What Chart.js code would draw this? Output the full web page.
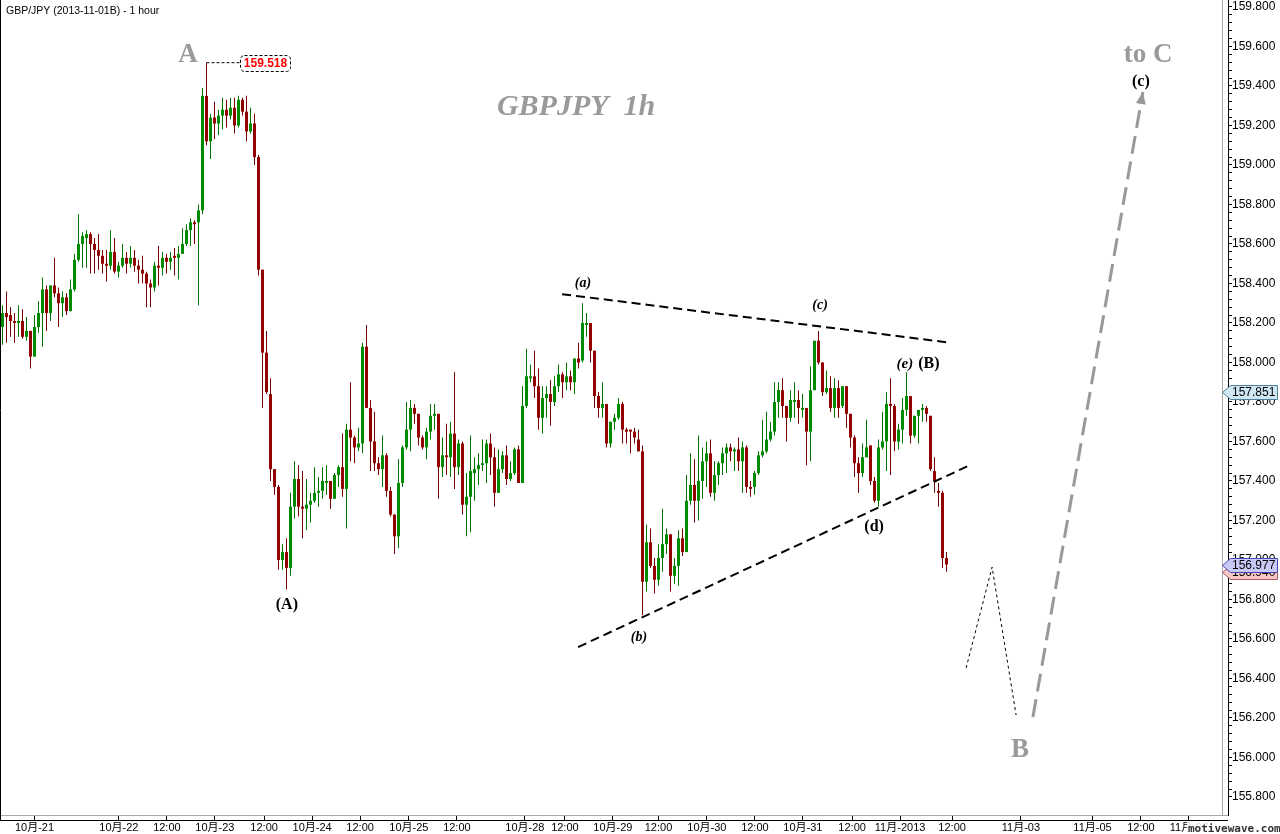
<!DOCTYPE html>
<html><head><meta charset="utf-8">
<script src="https://cdn.jsdelivr.net/npm/chart.js"></script>
<style>html,body{margin:0;padding:0;background:#fff;overflow:hidden}#wrap{position:relative;width:1280px;height:834px}</style>
</head><body><div id="wrap"><canvas id="c" width="1280" height="834"></canvas></div>
<script>
// ---------- DATA (GBP/JPY hourly, bars numbered from 1) ----------
const firstBar = 1;
const openP = [
158.18,158.25,158.24,158.21,158.20,158.21,158.13,158.16,158.03,158.18,
158.25,158.37,158.25,158.39,158.35,158.30,158.33,158.26,158.37,158.52,
158.60,158.63,158.65,158.60,158.57,158.54,158.50,158.49,158.56,158.46,
158.49,158.53,158.50,158.53,158.49,158.47,158.45,158.40,158.38,158.49,
158.48,158.53,158.51,158.54,158.53,158.55,158.60,158.67,158.71,158.71,
158.77,159.35,159.12,159.24,159.21,159.25,159.28,159.25,159.29,159.20,
159.33,159.27,159.17,159.21,159.04,158.47,158.05,157.84,157.46,157.37,
157.00,157.04,156.96,157.27,157.41,157.27,157.26,157.28,157.30,157.34,
157.35,157.39,157.40,157.31,157.43,157.47,157.36,157.66,157.62,157.57,
157.59,158.08,157.77,157.60,157.49,157.46,157.53,157.35,157.23,157.12,
157.39,157.57,157.66,157.77,157.74,157.62,157.57,157.65,157.73,157.74,
157.47,157.53,157.52,157.64,157.47,157.59,157.28,157.32,157.44,157.46,
157.48,157.49,157.59,157.52,157.34,157.46,157.53,157.41,157.44,157.56,
157.39,157.78,157.92,157.93,157.88,157.72,157.82,157.84,157.80,157.88,
157.94,157.90,157.93,157.90,158.02,158.01,158.19,158.20,158.06,157.83,
157.77,157.79,157.59,157.70,157.72,157.79,157.66,157.66,157.65,157.61,
157.55,156.89,157.09,156.97,156.90,157.01,157.08,157.13,156.92,156.97,
157.11,157.04,157.30,157.38,157.30,157.40,157.50,157.54,157.34,157.43,
157.49,157.54,157.57,157.55,157.56,157.50,157.57,157.37,157.37,157.44,
157.53,157.55,157.61,157.65,157.80,157.86,157.78,157.72,157.80,157.81,
157.76,157.77,157.65,157.86,158.11,158.00,157.85,157.87,157.77,157.87,
157.78,157.88,157.74,157.62,157.49,157.44,157.52,157.58,157.40,157.30,
157.57,157.60,157.79,157.78,157.60,157.66,157.76,157.83,157.63,157.73,
157.76,157.77,157.73,157.45,157.35,157.34,157.01];
const highP = [
158.29,158.36,158.28,158.25,158.29,158.27,158.23,158.16,158.24,158.31,
158.43,158.39,158.39,158.53,158.38,158.36,158.35,158.42,158.55,158.75,
158.66,158.67,158.66,158.63,158.65,158.57,158.57,158.67,158.63,158.51,
158.60,158.56,158.59,158.57,158.52,158.54,158.46,158.42,158.51,158.59,
158.56,158.55,158.56,158.58,158.59,158.68,158.70,158.73,158.72,158.80,
159.39,159.518,159.26,159.32,159.28,159.34,159.33,159.34,159.34,159.35,
159.34,159.35,159.29,159.26,159.05,158.47,158.16,157.92,157.46,157.38,
157.08,157.11,157.34,157.50,157.48,157.45,157.41,157.34,157.47,157.42,
157.47,157.48,157.40,157.44,157.48,157.64,157.69,157.90,157.63,157.67,
158.10,158.19,157.81,157.75,157.52,157.63,157.54,157.37,157.23,157.51,
157.58,157.80,157.81,157.79,157.74,157.63,157.67,157.79,157.79,157.74,
157.62,157.69,157.70,157.95,157.61,157.60,157.44,157.63,157.52,157.54,
157.61,157.61,157.64,157.57,157.56,157.55,157.58,157.50,157.57,157.58,
157.88,158.07,157.99,158.06,157.97,157.88,157.88,157.91,157.93,157.99,
157.95,158.00,157.96,158.02,158.10,158.30,158.25,158.20,158.06,157.85,
157.90,157.79,157.70,157.74,157.82,157.80,157.67,157.66,157.67,157.66,
157.58,157.18,157.16,157.01,157.08,157.26,157.16,157.13,157.01,157.15,
157.16,157.43,157.54,157.51,157.63,157.57,157.60,157.61,157.50,157.50,
157.57,157.59,157.59,157.57,157.62,157.60,157.58,157.40,157.45,157.55,
157.71,157.75,157.70,157.90,157.90,157.92,157.78,157.86,157.90,157.86,
157.84,157.77,157.98,158.11,158.16,158.00,157.96,157.93,157.92,157.91,
157.88,157.88,157.74,157.63,157.52,157.59,157.71,157.58,157.42,157.61,
157.75,157.85,157.92,157.79,157.69,157.82,157.95,157.83,157.73,157.76,
157.79,157.78,157.73,157.52,157.39,157.35,157.04];
const lowP = [
158.09,158.10,158.13,158.10,158.13,158.12,158.11,157.97,158.03,158.15,
158.08,158.16,158.21,158.33,158.18,158.23,158.24,158.26,158.36,158.51,
158.48,158.48,158.45,158.45,158.47,158.45,158.41,158.47,158.45,158.43,
158.48,158.45,158.48,158.46,158.40,158.40,158.28,158.28,158.36,158.39,
158.44,158.45,158.47,158.44,158.42,158.55,158.59,158.59,158.60,158.29,
158.75,159.10,159.03,159.13,159.15,159.18,159.19,159.23,159.16,159.19,
159.25,159.12,159.16,159.00,158.44,157.77,157.84,157.40,157.33,156.95,
156.95,156.85,156.92,157.21,157.22,157.11,157.15,157.19,157.29,157.27,
157.31,157.33,157.26,157.31,157.37,157.32,157.16,157.50,157.49,157.55,
157.54,157.77,157.45,157.45,157.43,157.37,157.32,157.22,157.03,157.06,
157.37,157.56,157.55,157.69,157.58,157.56,157.51,157.61,157.66,157.31,
157.42,157.43,157.42,157.36,157.43,157.23,157.12,157.14,157.30,157.38,
157.45,157.39,157.43,157.27,157.34,157.44,157.38,157.40,157.43,157.39,
157.39,157.77,157.90,157.82,157.66,157.64,157.72,157.68,157.78,157.85,
157.82,157.86,157.86,157.84,157.97,158.00,158.13,158.00,157.77,157.72,
157.72,157.57,157.57,157.66,157.71,157.59,157.59,157.54,157.59,157.55,
156.72,156.84,156.96,156.83,156.87,156.94,157.03,156.84,156.88,156.87,
157.02,157.04,157.28,157.19,157.20,157.31,157.37,157.32,157.30,157.38,
157.43,157.44,157.50,157.45,157.45,157.34,157.34,157.32,157.33,157.43,
157.52,157.54,157.60,157.63,157.72,157.72,157.60,157.70,157.72,157.69,
157.72,157.48,157.50,157.86,157.99,157.83,157.84,157.75,157.72,157.72,
157.77,157.67,157.57,157.42,157.34,157.42,157.52,157.38,157.29,157.27,
157.56,157.45,157.43,157.55,157.56,157.59,157.73,157.59,157.62,157.59,
157.70,157.70,157.45,157.34,157.27,156.96,156.940];
const closeP = [
158.25,158.23,158.21,158.20,158.21,158.13,158.16,158.03,158.18,158.25,
158.37,158.25,158.39,158.35,158.30,158.33,158.26,158.37,158.52,158.60,
158.64,158.65,158.60,158.57,158.54,158.50,158.49,158.56,158.46,158.49,
158.53,158.50,158.53,158.49,158.47,158.45,158.40,158.38,158.49,158.48,
158.53,158.51,158.53,158.53,158.55,158.60,158.67,158.71,158.70,158.77,
159.35,159.12,159.24,159.21,159.25,159.28,159.25,159.29,159.20,159.33,
159.27,159.17,159.21,159.04,158.47,158.05,157.85,157.46,157.37,157.00,
157.04,156.96,157.27,157.41,157.27,157.26,157.28,157.30,157.34,157.35,
157.40,157.40,157.31,157.43,157.47,157.36,157.66,157.62,157.57,157.59,
158.08,157.77,157.60,157.49,157.46,157.53,157.35,157.23,157.12,157.39,
157.57,157.66,157.77,157.74,157.62,157.57,157.65,157.73,157.74,157.47,
157.53,157.52,157.64,157.47,157.59,157.28,157.32,157.45,157.46,157.48,
157.49,157.59,157.52,157.34,157.46,157.53,157.41,157.44,157.56,157.39,
157.78,157.93,157.93,157.88,157.72,157.82,157.84,157.80,157.88,157.94,
157.90,157.93,157.90,158.02,158.00,158.20,158.20,158.06,157.83,157.77,
157.79,157.59,157.70,157.72,157.79,157.66,157.65,157.65,157.62,157.55,
156.89,157.09,156.97,156.90,157.01,157.08,157.13,156.92,156.97,157.11,
157.04,157.30,157.38,157.30,157.40,157.50,157.54,157.34,157.43,157.49,
157.54,157.57,157.55,157.56,157.50,157.57,157.37,157.36,157.44,157.53,
157.55,157.61,157.65,157.80,157.86,157.78,157.72,157.81,157.81,157.77,
157.77,157.65,157.86,158.11,158.00,157.85,157.87,157.77,157.87,157.77,
157.88,157.74,157.62,157.49,157.44,157.52,157.57,157.40,157.30,157.57,
157.60,157.79,157.78,157.60,157.66,157.76,157.83,157.63,157.73,157.76,
157.77,157.74,157.46,157.40,157.34,157.01,156.977];

// time axis ticks (bar-number positions) and their labels
const xTickPos    = [9.0, 30.1, 42.1, 54.1, 66.4, 78.4, 90.4, 102.6, 114.6, 131.6, 141.6, 153.6, 165.0, 177.1, 189.1, 201.1, 213.4, 225.4, 238.4, 255.6, 273.5, 285.6, 297.6];
const xTickLabels = ['10月-21','10月-22','12:00','10月-23','12:00','10月-24','12:00','10月-25','12:00','10月-28','12:00','10月-29','12:00','10月-30','12:00','10月-31','12:00','11月-2013','12:00','11月-03','11月-05','12:00','11月-07'];
const yMajorTicks = [155.8,156.0,156.2,156.4,156.6,156.8,157.0,157.2,157.4,157.6,157.8,158.0,158.2,158.4,158.6,158.8,159.0,159.2,159.4,159.6,159.8];

// wave-count drawing (points in bar number / price)
const upperLine = [{x:140.9,y:158.346},{x:236.9,y:158.103}];
const lowerLine = [{x:144.9,y:156.559},{x:242.4,y:157.476}];
const projThin  = [{x:241.9,y:156.453},{x:248.4,y:156.964},{x:254.4,y:156.215}];
const projArrow = [{x:258.6,y:156.205},{x:286.1,y:159.369}];
const peakLink  = [{x:52,y:159.518},{x:60.4,y:159.518}];
const peakValue = 159.518;
const priceTags = [
  {v:157.851, fill:'#cfe6f3', stroke:'#4f7f9c'},
  {v:156.940, fill:'#f6c6c6', stroke:'#b05a5a'},
  {v:156.977, fill:'#c9c9f7', stroke:'#4646b4'}
];

const SERIF = "'Liberation Serif','DejaVu Serif',serif";
const SANS  = "'Liberation Sans','Noto Sans CJK SC',Arial,sans-serif";
const labels = [
  {t:'A',          x:47.4,  y:159.557, f:'bold 27px '+SERIF, c:'#9a9a9a'},
  {t:'to C',       x:287.4, y:159.557, f:'bold 27px '+SERIF, c:'#9a9a9a'},
  {t:'B',          x:255.4, y:156.038, f:'bold 27px '+SERIF, c:'#9a9a9a'},
  {t:'GBPJPY  1h', x:144.4, y:159.293, f:'italic bold 30px '+SERIF, c:'#9a9a9a'},
  {t:'(A)',        x:72.1,  y:156.772, f:'bold 16px '+SERIF, c:'#000'},
  {t:'(a)',        x:146.1, y:158.402, f:'italic bold 14px '+SERIF, c:'#000'},
  {t:'(b)',        x:160.1, y:156.610, f:'italic bold 14px '+SERIF, c:'#000'},
  {t:'(c)',        x:205.4, y:158.291, f:'italic bold 14px '+SERIF, c:'#000'},
  {t:'(d)',        x:218.9, y:157.167, f:'bold 16px '+SERIF, c:'#000'},
  {t:'(e)',        x:226.6, y:157.992, f:'italic bold 15px '+SERIF, c:'#000'},
  {t:'(B)',        x:232.6, y:157.992, f:'bold 16px '+SERIF, c:'#000'},
  {t:'(c)',        x:285.6, y:159.420, f:'bold 16px '+SERIF, c:'#000'}
];

// ---------- CHART ----------
const yMin = 155.7088, yMax = 159.8354;
const xMin = 0.375, xMax = 0.375 + 1228 / 4;
const frameRight = 1222;      // grey border of the price pane
const bars = openP.map((_, k) => k + firstBar);
const isUp = k => closeP[k] >= openP[k];
const GREEN = '#008a00', RED = '#920000', GREEN_W = '#007400', RED_W = '#780000';

const yTickValues = [];
for (let k = 0; k < yMajorTicks.length; k++) {
  yTickValues.push(yMajorTicks[k]);
  if (k < yMajorTicks.length - 1) for (let m = 1; m < 5; m++) yTickValues.push(+(yMajorTicks[k] + m * 0.04).toFixed(3));
}
const majorSet = new Set(yMajorTicks.map(v => v.toFixed(3)));

const overlay = {
  id: 'overlay',
  beforeDraw(chart) {
    const c = chart.ctx; c.save(); c.fillStyle = '#fff'; c.fillRect(0, 0, chart.width, chart.height); c.restore();
  },
  beforeDatasetsDraw(chart) {
    const c = chart.ctx, ca = chart.chartArea;
    c.save();
    c.strokeStyle = '#a8a8a8'; c.lineWidth = 1;
    c.beginPath(); c.moveTo(frameRight + 0.5, 0); c.lineTo(frameRight + 0.5, ca.bottom); c.stroke();
    c.restore();
  },
  afterDraw(chart) {
    const c = chart.ctx, ca = chart.chartArea, xs = chart.scales.x, ys = chart.scales.y;
    c.save();
    // frame
    c.strokeStyle = '#000'; c.lineWidth = 1;
    c.beginPath(); c.moveTo(0.5, 0); c.lineTo(0.5, ca.bottom + 6); c.stroke();
    c.beginPath(); c.moveTo(0, ca.bottom + 5.5); c.lineTo(ca.right, ca.bottom + 5.5); c.stroke();
    // title
    c.fillStyle = '#000'; c.font = '10.5px ' + SANS; c.textAlign = 'left'; c.textBaseline = 'alphabetic';
    c.fillText('GBP/JPY (2013-11-01B) - 1 hour', 6, 14);
    // arrow head of projection
    const p0 = projArrow[0], p1 = projArrow[1];
    const ax0 = xs.getPixelForValue(p0.x), ay0 = ys.getPixelForValue(p0.y);
    const ax1 = xs.getPixelForValue(p1.x), ay1 = ys.getPixelForValue(p1.y);
    const ang = Math.atan2(ay1 - ay0, ax1 - ax0);
    c.fillStyle = '#999';
    c.beginPath(); c.moveTo(ax1, ay1);
    c.lineTo(ax1 - 12 * Math.cos(ang) + 5 * Math.sin(ang), ay1 - 12 * Math.sin(ang) - 5 * Math.cos(ang));
    c.lineTo(ax1 - 12 * Math.cos(ang) - 5 * Math.sin(ang), ay1 - 12 * Math.sin(ang) + 5 * Math.cos(ang));
    c.closePath(); c.fill();
    // peak value box
    const bx = xs.getPixelForValue(peakLink[1].x), by = ys.getPixelForValue(peakValue);
    c.fillStyle = '#fff'; c.strokeStyle = '#000'; c.setLineDash([3, 2]); c.lineWidth = 1;
    roundRect(c, Math.round(bx) + 0.5, Math.round(by - 8) + 0.5, 50, 16, 4); c.fill(); c.stroke();
    c.setLineDash([]);
    c.fillStyle = '#ff0000'; c.font = 'bold 12px ' + SANS; c.textAlign = 'center'; c.textBaseline = 'middle';
    c.fillText(peakValue.toFixed(3), Math.round(bx) + 25.5, by + 1);
    // wave labels
    labels.forEach(l => {
      c.font = l.f; c.fillStyle = l.c; c.textAlign = 'center'; c.textBaseline = 'middle';
      c.fillText(l.t, xs.getPixelForValue(l.x), ys.getPixelForValue(l.y));
    });
    // price tags on the value axis
    priceTags.forEach(t => {
      const yy = Math.round(ys.getPixelForValue(t.v)) + 0.5, x0 = frameRight + 0.5;
      c.beginPath(); c.moveTo(x0, yy); c.lineTo(x0 + 8, yy - 7); c.lineTo(1277.5, yy - 7); c.lineTo(1277.5, yy + 7); c.lineTo(x0 + 8, yy + 7); c.closePath();
      c.fillStyle = t.fill; c.fill(); c.strokeStyle = t.stroke; c.lineWidth = 1; c.stroke();
      c.fillStyle = '#000'; c.font = '12px ' + SANS; c.textAlign = 'left'; c.textBaseline = 'middle';
      c.fillText(t.v.toFixed(3), 1232, yy + 0.5);
    });
    // watermark
    c.fillStyle = 'rgba(255,255,255,0.85)'; c.fillRect(1187, 822, 93, 12);
    c.fillStyle = '#333'; c.font = 'bold 11px "DejaVu Sans Mono",monospace'; c.textAlign = 'left'; c.textBaseline = 'alphabetic';
    c.fillText('motivewave.com', 1188, 832);
    c.restore();
  }
};
function roundRect(c, x, y, w, h, r) {
  c.beginPath(); c.moveTo(x + r, y); c.lineTo(x + w - r, y); c.arcTo(x + w, y, x + w, y + r, r);
  c.lineTo(x + w, y + h - r); c.arcTo(x + w, y + h, x + w - r, y + h, r); c.lineTo(x + r, y + h);
  c.arcTo(x, y + h, x, y + h - r, r); c.lineTo(x, y + r); c.arcTo(x, y, x + r, y, r); c.closePath();
}

const lineDs = (data, color, width, dash, order) => ({
  type: 'line', data, borderColor: color, borderWidth: width, borderDash: dash, pointRadius: 0,
  fill: false, tension: 0, order, borderCapStyle: 'butt'
});

new Chart(document.getElementById('c'), {
  type: 'bar',
  data: {
    datasets: [
      { type: 'bar', data: bars.map((b, k) => ({x: b, y: [openP[k], closeP[k]]})), barThickness: 3, minBarLength: 1,
        grouped: false, inflateAmount: 0, borderWidth: 0, order: 2,
        backgroundColor: ctx => isUp(ctx.dataIndex) ? GREEN : RED },
      { type: 'bar', data: bars.map((b, k) => ({x: b, y: [lowP[k], highP[k]]})), barThickness: 1,
        grouped: false, inflateAmount: 0, borderWidth: 0, order: 3,
        backgroundColor: ctx => isUp(ctx.dataIndex) ? GREEN_W : RED_W },
      lineDs(upperLine, '#000', 2, [9, 5], 1),
      lineDs(lowerLine, '#000', 2, [9, 5], 1),
      lineDs(projThin, '#000', 1, [3, 3], 1),
      lineDs(projArrow, '#999', 3, [18, 8], 1),
      lineDs(peakLink, '#000', 1, [3, 2], 1)
    ]
  },
  options: {
    responsive: false, animation: false, devicePixelRatio: 1, events: [],
    layout: { padding: 0 },
    plugins: { legend: { display: false }, tooltip: { enabled: false }, title: { display: false } },
    scales: {
      x: {
        type: 'linear', min: xMin, max: xMax, offset: false,
        grid: { drawOnChartArea: false, drawTicks: true, tickLength: 5, color: '#000', offset: false },
        border: { display: true, color: '#a8a8a8' },
        ticks: { autoSkip: false, maxRotation: 0, minRotation: 0, padding: 1, color: '#000', font: { size: 11, family: SANS },
          callback: (v, i) => xTickLabels[i] },
        afterBuildTicks: s => { s.ticks = xTickPos.map(v => ({value: v})); },
        afterFit: s => { s.height = 19; s.paddingLeft = 0; s.paddingRight = 0; }
      },
      y: {
        type: 'linear', position: 'right', min: yMin, max: yMax,
        grid: { drawOnChartArea: false, drawTicks: true, tickLength: 4, color: '#000', offset: false },
        border: { display: true, color: '#000' },
        ticks: { autoSkip: false, padding: 0, color: '#000', font: { size: 12, family: SANS },
          callback: v => majorSet.has(Number(v).toFixed(3)) ? Number(v).toFixed(3) : '' },
        afterBuildTicks: s => { s.ticks = yTickValues.map(v => ({value: v})); },
        afterFit: s => { s.width = 52; s.paddingTop = 0; s.paddingBottom = 0; }
      }
    }
  },
  plugins: [overlay]
});
</script></body></html>
